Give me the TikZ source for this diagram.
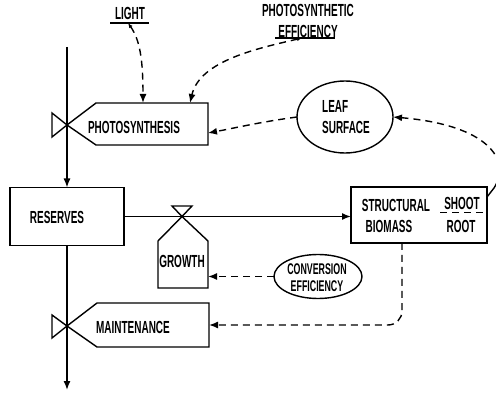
\documentclass[tikz,border=0pt]{standalone}
\usepackage{fontspec}
\setmainfont{Liberation Sans}[FakeStretch=0.57]
\usetikzlibrary{arrows.meta,shapes.geometric}
\begin{document}
\begin{tikzpicture}[x=1pt,y=-1pt,line width=1.4pt,
  lbl/.style={font=\fontsize{17.5}{21}\selectfont\bfseries, inner sep=0pt},
  slbl/.style={font=\fontsize{15.5}{17}\selectfont\bfseries, inner sep=0pt, align=center},
  flow/.style={-{Latex[length=9pt,width=7pt]}},
  info/.style={dash pattern=on 7pt off 5pt, -{Latex[length=9pt,width=7pt]}},
  box/.style={draw, rectangle, inner sep=0pt, outer sep=0pt},
  ghost/.style={rectangle, inner sep=0pt, outer sep=0pt},
  valve/.style={line join=miter},
]
\useasboundingbox (0,0) rectangle (496,393);

% coordinates
\coordinate (src) at (67,47);
\coordinate (sink) at (67,390);
\coordinate (v1) at (67,125);
\coordinate (v2) at (67,326);
\coordinate (v3) at (182,216.5);

% boxes
\node[box, minimum width=114pt, minimum height=58pt] (res) at (67,216.5) {};
\node[lbl] (reslbl) at (57,217) {RESERVES};
\node[box, minimum width=136pt, minimum height=56pt] (sb) at (419,215) {};
\node[lbl] (sblbl1) at (396,205) {STRUCTURAL};
\node[lbl] (sblbl2) at (389,226) {BIOMASS};
\node[lbl] (shoot) at (462,203) {SHOOT};
\node[lbl] (root) at (461,226) {ROOT};
\draw[dash pattern=on 7pt off 5pt] (440,212.5) -- (sb.east |- 0,212.5);

% rates
\node[ghost, minimum width=112pt, minimum height=42pt] (photo) at (152,124) {};
\draw[valve] (v1) -- (96,103) -- (photo.north east) -- (photo.south east) -- (96,145) -- cycle;
\draw[valve] (v1) -- (52,113) -- (52,137) -- cycle;
\node[lbl] (photolbl) at (134,127) {PHOTOSYNTHESIS};

\node[ghost, minimum width=112pt, minimum height=44pt] (maint) at (153,325) {};
\draw[valve] (v2) -- (97,303) -- (maint.north east) -- (maint.south east) -- (97,347) -- cycle;
\draw[valve] (v2) -- (52,315) -- (52,338) -- cycle;
\node[lbl] (maintlbl) at (133,327) {MAINTENANCE};

\node[ghost, minimum width=50pt, minimum height=47pt] (growth) at (183,264.5) {};
\draw[valve] (v3) -- (growth.north east) -- (growth.south east) -- (growth.south west) -- (growth.north west) -- cycle;
\draw[valve] (v3) -- (172,206) -- (192,206) -- cycle;
\node[lbl] (growthlbl) at (182,261) {GROWTH};

% auxiliaries
\node[draw, ellipse, minimum width=96pt, minimum height=72pt, inner sep=0pt, outer sep=0pt] (leaf) at (345,117) {};
\node[lbl, align=left] (leaflbl) at (346,117) {LEAF\\SURFACE};
\node[draw, ellipse, minimum width=88pt, minimum height=44pt, inner sep=0pt, outer sep=0pt] (conv) at (318,276.5) {};
\node[slbl] (convlbl) at (317,278) {CONVERSION\\EFFICIENCY};

% driving variables
\node[lbl] (light) at (130,13) {LIGHT};
\coordinate (lightL) at (110,23);
\coordinate (lightR) at (149,23);
\coordinate (lightu) at (128,23);
\draw (lightL) -- (lightR);
\node[lbl, align=center] (pe) at (308,21) {PHOTOSYNTHETIC\\EFFICIENCY};
\coordinate (peL) at (275,38);
\coordinate (peR) at (335,38);
\coordinate (peu) at (302,38);
\draw (peL) -- (peR);

% material flows
\draw[flow] (src) -- (res.north);
\draw[flow] (res.south) -- (sink);
\draw[flow] (res.east) -- (res.east -| sb.west);

% information flows
\coordinate (plight) at (143,103);
\coordinate (ppe) at (190,103);
\coordinate (pleaf) at (208,133);
\draw[info, {Latex[length=5pt,width=4pt]}-{Latex[length=9pt,width=7pt]}] (lightu) .. controls (140,40) and (143,60) .. (plight);
\draw[info, {Latex[length=5pt,width=4pt]}-{Latex[length=9pt,width=7pt]}] (peu) .. controls (260,48) and (200,60) .. (ppe);
\draw[info] (leaf.west) .. controls (260,122) and (235,128) .. (pleaf);
\draw[info] (conv.west) -- (conv.west -| growth.east);
\coordinate (sbout) at (402,243);
\draw[info, rounded corners=14pt] (sbout) -- (sbout |- maint.east) -- (maint.east);
\coordinate (shootout) at (487,197);
\coordinate (shootmid) at (494,188);
\draw (shootout) -- (shootmid);
\draw[info] (shootmid) .. controls (512,160) and (488,125) .. (leaf.east);
\end{tikzpicture}
\end{document}
